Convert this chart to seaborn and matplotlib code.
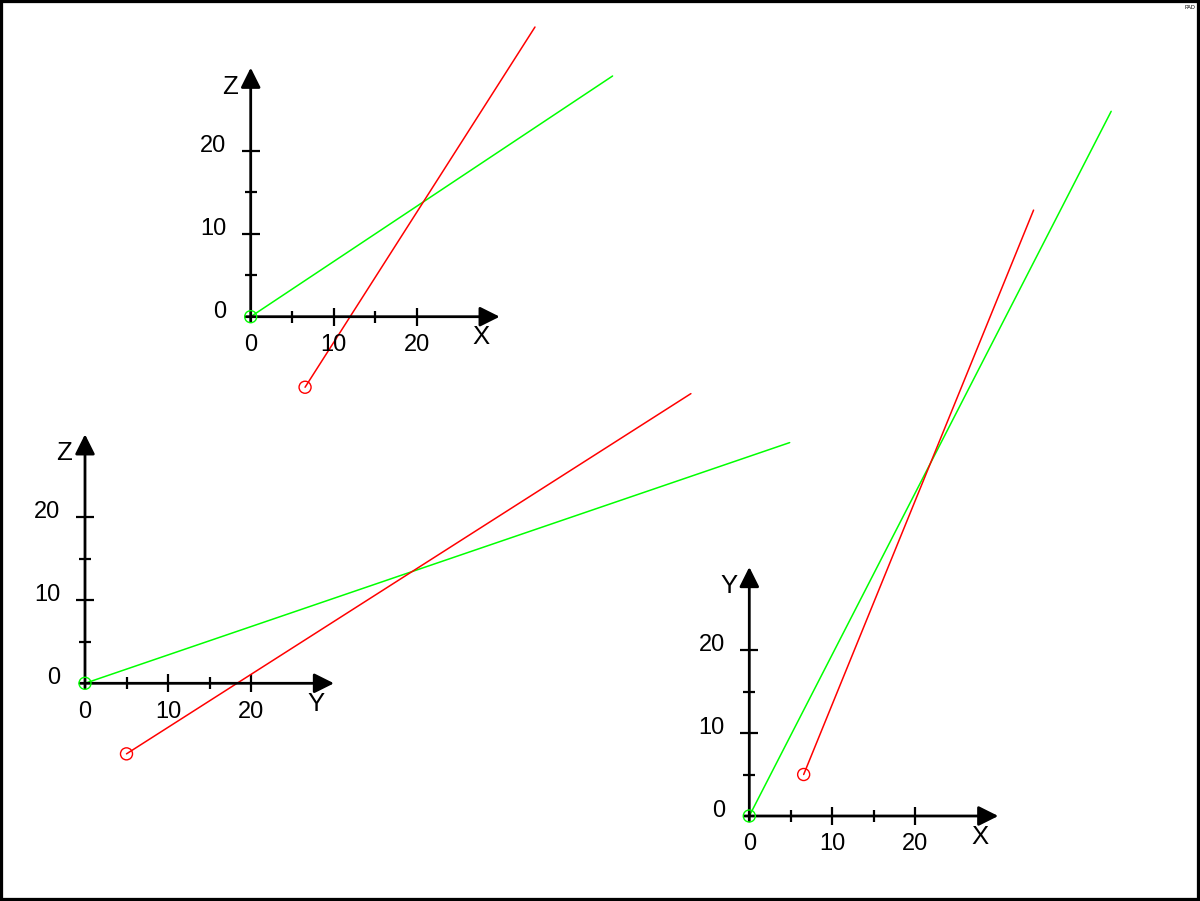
import matplotlib
matplotlib.use("Agg")
import matplotlib.pyplot as plt
import seaborn as sns
from matplotlib.patches import Rectangle

# Set style
sns.set_style("white")
plt.rcParams['font.family'] = ['Liberation Sans', 'DejaVu Sans']
plt.rcParams['text.color'] = 'black'

# Two straight tracks in 3D: start and end points (x, y, z)
track_names = ["green", "red"]
track_colors = ["#00ff00", "#ff0000"]
track_x0 = [0.0, 6.55]
track_y0 = [0.0, 5.0]
track_z0 = [0.0, -8.5]
track_x1 = [43.6, 34.25]
track_y1 = [84.9, 73.0]
track_z1 = [29.0, 34.9]

# axis ticks
major_ticks = [10, 20]
minor_ticks = [5, 15]
tick_labels = [0, 10, 20]
axis_length = 30

# figure size in px and px per data unit
FIG_W, FIG_H = 1200, 901
SCALE = 8.3


def draw_panel(ax, origin, hname, vname, h0, h1, v0, v1):
    ox, oy = origin
    ax.set_xlim(-ox / SCALE, (FIG_W - ox) / SCALE)
    ax.set_ylim(-(FIG_H - oy) / SCALE, oy / SCALE)
    ax.set_axis_off()
    ax.patch.set_alpha(0)

    arrow = dict(arrowstyle="-|>,head_length=0.6,head_width=0.3", color="black",
                 lw=2, mutation_scale=20, shrinkA=0, shrinkB=0)
    ax.annotate("", xy=(axis_length, 0), xytext=(-0.6, 0), arrowprops=arrow)
    ax.annotate("", xy=(0, axis_length), xytext=(0, -0.6), arrowprops=arrow)

    # ticks
    ax.vlines(major_ticks, -1.08, 1.08, color="black", lw=1.6)
    ax.vlines(minor_ticks, -0.72, 0.72, color="black", lw=1.6)
    ax.hlines(major_ticks, -1.08, 1.08, color="black", lw=1.6)
    ax.hlines(minor_ticks, -0.72, 0.72, color="black", lw=1.6)

    for v in tick_labels:
        ax.text(v, -3.4, str(v), ha="center", va="center", fontsize=17)
        ax.text(-2.95, v + 0.6, str(v), ha="right", va="center", fontsize=17)

    ax.text(27.8, -2.5, hname, ha="center", va="center", fontsize=18.5)
    ax.text(-2.5, 27.7, vname, ha="center", va="center", fontsize=18.5)

    for i in range(len(track_names)):
        sns.lineplot(x=[h0[i], h1[i]], y=[v0[i], v1[i]], sort=False, estimator=None,
                     color=track_colors[i], lw=1.1, ax=ax)
        sns.scatterplot(x=[h0[i]], y=[v0[i]], s=75, facecolor="none",
                        edgecolor=track_colors[i], linewidth=1, ax=ax, zorder=3)


def main():
    fig = plt.figure(figsize=(FIG_W / 100, FIG_H / 100), dpi=100)

    panels = [
        ((250.7, 316.7), "X", "Z", track_x0, track_x1, track_z0, track_z1),
        ((85.0, 683.3), "Y", "Z", track_y0, track_y1, track_z0, track_z1),
        ((749.3, 816.0), "X", "Y", track_x0, track_x1, track_y0, track_y1),
    ]
    for origin, hname, vname, h0, h1, v0, v1 in panels:
        ax = fig.add_axes([0, 0, 1, 1])
        draw_panel(ax, origin, hname, vname, h0, h1, v0, v1)

    fig.patches.append(Rectangle((0, 0), 1, 1, transform=fig.transFigure,
                                 fill=False, ec="black", lw=4.5))
    fig.text(0.996, 0.994, "PAD", fontsize=4, ha="right", va="top")

    fig.savefig("out.png", dpi=100)
    plt.close(fig)


if __name__ == "__main__":
    main()
